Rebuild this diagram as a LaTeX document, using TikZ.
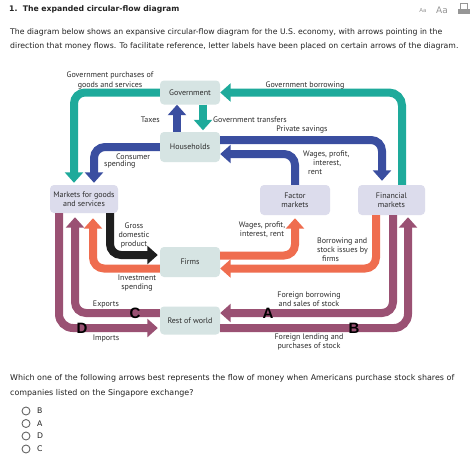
\documentclass[tikz,border=0pt]{standalone}
\usepackage{fontspec}
\setmainfont{DejaVu Sans}
\newfontfamily\dg{PT Sans}
\newfontfamily\lt{Liberation Sans}
\usetikzlibrary{arrows.meta}
\definecolor{tealc}{RGB}{30,170,155}
\definecolor{bluec}{RGB}{58,78,160}
\definecolor{orangec}{RGB}{239,109,79}
\definecolor{purplec}{RGB}{154,81,115}
\definecolor{blackc}{RGB}{30,30,30}
\definecolor{gboxc}{RGB}{214,228,227}
\definecolor{mboxc}{RGB}{220,220,236}
\definecolor{txtc}{RGB}{34,34,34}
\definecolor{lblc}{RGB}{45,45,45}
\definecolor{iconc}{RGB}{150,150,150}
\begin{document}
\begin{tikzpicture}[x=1pt,y=-1pt,
  gbox/.style={fill=gboxc, rounded corners=4pt, minimum width=60pt, minimum height=24pt, inner sep=0pt, align=center, text=lblc, font=\dg\fontsize{8}{9.5}\selectfont},
  mbox/.style={gbox, fill=mboxc},
  flow/.style={line width=8pt, rounded corners=11pt, -{Triangle[width=18pt,length=10.5pt]}},
  lbl/.style={inner sep=0pt, text=lblc, align=center, font=\dg\fontsize{8}{9.2}\selectfont},
  letter/.style={inner sep=0pt, text=black, font=\lt\bfseries\fontsize{15}{15}\selectfont},
  web/.style={inner sep=0pt, anchor=west, text=txtc, font=\fontsize{7.75}{9}\selectfont},
  radio/.style={circle, draw=gray!80!black, line width=0.9pt, fill=white, minimum size=8pt, inner sep=0pt},
]
\useasboundingbox[fill=white] (0,0) rectangle (474,459);

% page header
\node[web, font=\bfseries\fontsize{7.7}{9}\selectfont] (title) at (9,9) {1.\ \ The expanded circular-flow diagram};
\node[inner sep=0pt, text=iconc, font=\fontsize{5.5}{6}\selectfont] (aas) at (423,11) {Aa};
\node[inner sep=0pt, text=iconc, font=\fontsize{9}{10}\selectfont] (aal) at (442,10) {Aa};
\node[draw=iconc, fill=white, line width=0.6pt, minimum width=7pt, minimum height=6pt, inner sep=0pt] (paper) at (464,6) {};
\node[fill=iconc, minimum width=12pt, minimum height=5pt, inner sep=0pt] (printer) at (464,11.5) {};
\node[web] (p1) at (10,32) {The diagram below shows an expansive circular-flow diagram for the U.S. economy, with arrows pointing in the};
\node[web] (p2) at (10,46) {direction that money flows. To facilitate reference, letter labels have been placed on certain arrows of the diagram.};

% boxes
\node[gbox] (gov) at (190,92.5) {Government};
\node[gbox, minimum height=30pt] (hh) at (190,147) {Households};
\node[mbox, minimum width=68pt, minimum height=28pt] (mgs) at (84,199) {Markets for goods\\and services};
\node[mbox, minimum width=70pt, minimum height=30pt] (fac) at (295,200) {Factor\\markets};
\node[mbox, minimum width=67pt, minimum height=30pt] (fin) at (391.5,200) {Financial\\markets};
\node[gbox, minimum height=30pt] (firms) at (190,262) {Firms};
\node[gbox, minimum height=28pt] (row) at (190,320.5) {Rest of world};

% flows
\draw[flow, tealc, shorten >=2pt] (gov.west) -| ([xshift=-10pt]mgs.north);
\draw[flow, tealc, rounded corners=13pt] ([xshift=10.5pt]fin.north) |- (gov.east);
\draw[flow, tealc, shorten >=1.5pt] ([xshift=13pt]gov.south) -- ([xshift=13pt]hh.north);
\draw[flow, bluec] ([xshift=-13pt]hh.north) -- ([xshift=-13pt]gov.south);
\draw[flow, bluec, shorten >=2pt] (hh.west) -| ([xshift=10pt]mgs.north);
\draw[flow, bluec, shorten >=4pt] ([yshift=7pt]hh.east) -| ([xshift=-9.5pt]fin.north);
\draw[flow, bluec] (fac.north) |- ([yshift=-7pt]hh.east);
\draw[flow, orangec, shorten >=3pt] ([yshift=6.5pt]firms.east) -| (fac.south);
\draw[flow, orangec] ([xshift=-15.5pt]fin.south) |- ([yshift=-6.5pt]firms.east);
\draw[flow, orangec, shorten >=5pt] ([yshift=-6.5pt]firms.west) -| ([xshift=9pt]mgs.south);
\draw[flow, blackc, shorten >=2pt] ([xshift=26pt]mgs.south) |- ([yshift=7pt]firms.west);
\draw[flow, purplec, shorten >=4pt] ([yshift=7.5pt]row.west) -| ([xshift=-9pt]mgs.south);
\draw[flow, purplec, rounded corners=14pt, shorten >=2pt] ([xshift=-25pt]mgs.south) |- ([yshift=-7.5pt]row.west);
\draw[flow, purplec] ([xshift=1.5pt]fin.south) |- ([yshift=7.5pt]row.east);
\draw[flow, purplec, rounded corners=14pt, shorten >=2pt] ([yshift=-7.5pt]row.east) -| ([xshift=16.5pt]fin.south);

% labels
\node[lbl] (lgp) at (110,80.5) {Government purchases of\\goods and services};
\node[lbl] (lgb) at (305,85) {Government borrowing};
\node[lbl, anchor=east] (ltax) at (160,120) {Taxes};
\node[lbl, anchor=west] (ltr) at (213,120) {Government transfers};
\node[lbl] (lps) at (302,130) {Private savings};
\node[lbl, anchor=west] (lcs1) at (116,157) {Consumer};
\node[lbl, anchor=west] (lcs2) at (104,165) {spending};
\node[lbl, anchor=west] (lw1) at (303,155) {Wages, profit,};
\node[lbl, anchor=west] (lw2) at (313,163.5) {interest,};
\node[lbl, anchor=west] (lw3) at (308,172.5) {rent};
\node[lbl] (lgdp) at (134,235.5) {Gross\\domestic\\product};
\node[lbl] (low) at (262,230) {Wages, profit,\\interest, rent};
\node[lbl, align=left, anchor=west] (lbor) at (317,250) {Borrowing and\\stock issues by\\\hspace{5pt}firms};
\node[lbl] (linv) at (137,283) {Investment\\spending};
\node[lbl] (lexp) at (106,304) {Exports};
\node[lbl] (limp) at (106,338) {Imports};
\node[lbl] (lfb) at (309,299) {Foreign borrowing\\and sales of stock};
\node[lbl] (lfl) at (309,342) {Foreign lending and\\purchases of stock};

% letters
\node[letter] (lC) at (135,313) {C};
\node[letter] (lD) at (82,328) {D};
\node[letter] (lA) at (268,313) {A};
\node[letter] (lB) at (354,328) {B};

% question
\node[web, font=\fontsize{7.95}{9}\selectfont] (q1) at (10,378) {Which one of the following arrows best represents the flow of money when Americans purchase stock shares of};
\node[web, font=\fontsize{7.95}{9}\selectfont] (q2) at (10,393) {companies listed on the Singapore exchange?};
\node[radio] (r1) at (26,411) {};
\node[radio] (r2) at (26,423.5) {};
\node[radio] (r3) at (26,436) {};
\node[radio] (r4) at (26,449) {};
\node[web] (o1) at (37,411) {B};
\node[web] (o2) at (37,423.5) {A};
\node[web] (o3) at (37,436) {D};
\node[web] (o4) at (37,449) {C};
\end{tikzpicture}
\end{document}
